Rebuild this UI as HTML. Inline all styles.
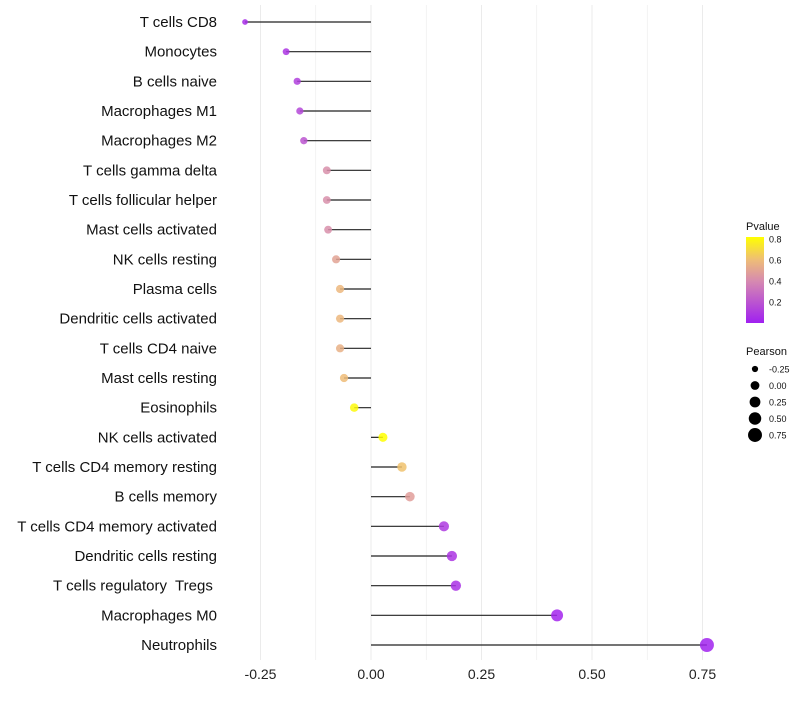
<!DOCTYPE html>
<html><head><meta charset="utf-8"><style>
body{margin:0;background:#fff;font-family:"Liberation Sans",sans-serif}
text{white-space:pre}
</style></head><body>
<svg id="c" width="800" height="700" xmlns="http://www.w3.org/2000/svg"></svg>
<script>
const categories=["T cells CD8","Monocytes","B cells naive","Macrophages M1","Macrophages M2","T cells gamma delta","T cells follicular helper","Mast cells activated","NK cells resting","Plasma cells","Dendritic cells activated","T cells CD4 naive","Mast cells resting","Eosinophils","NK cells activated","T cells CD4 memory resting","B cells memory","T cells CD4 memory activated","Dendritic cells resting","T cells regulatory  Tregs ","Macrophages M0","Neutrophils"];
const pearson=[-0.285,-0.192,-0.167,-0.161,-0.152,-0.1,-0.1,-0.097,-0.079,-0.07,-0.07,-0.07,-0.061,-0.038,0.027,0.07,0.088,0.165,0.183,0.192,0.421,0.76];
const pvalue=[0.05,0.08,0.12,0.15,0.2,0.42,0.42,0.42,0.5,0.58,0.58,0.55,0.6,0.8,0.82,0.62,0.48,0.1,0.08,0.07,0.02,0.01];
const xTicks=[-0.25,0,0.25,0.5,0.75];
const xTickLabels=["-0.25","0.00","0.25","0.50","0.75"];
const sizeLegend=[-0.25,0,0.25,0.5,0.75];
const sizeLegendLabels=["-0.25","0.00","0.25","0.50","0.75"];
const pLegend=[0.2,0.4,0.6,0.8];

const svg=document.getElementById('c');const NS="http://www.w3.org/2000/svg";
function mk(t,a,p){const e=document.createElementNS(NS,t);for(const k in a)e.setAttribute(k,a[k]);(p||svg).appendChild(e);return e;}
const x=v=>371+v*442;
const y=i=>22+i*(623/21);
const rr=v=>Math.sqrt(Math.max(19.4+39*v,4));
function lerp(a,b,t){return a.map((c,i)=>Math.round(c+(b[i]-c)*t));}
const stops=[[0,[160,32,240]],[0.4,[214,138,176]],[0.6,[238,188,120]],[0.82,[255,255,0]]];
function col(p){p=Math.max(0,Math.min(0.82,p));for(let i=0;i<stops.length-1;i++){if(p<=stops[i+1][0]){const t=(p-stops[i][0])/(stops[i+1][0]-stops[i][0]);return "rgb("+lerp(stops[i][1],stops[i+1][1],t).join(",")+")";}}return "rgb(255,255,0)";}
for(let v=-0.25;v<=0.76;v+=0.125){const g=mk('line',{x1:x(v),x2:x(v),y1:5,y2:660,stroke:'#ebebeb','stroke-width':Math.abs((v*8)%2)<0.01?1:0.6});
}
xTicks.forEach((v,i)=>{const t=mk('text',{x:x(v),y:679,'text-anchor':'middle','font-size':14,fill:'#222'});t.textContent=xTickLabels[i];
});
categories.forEach((c,i)=>{
const t=mk('text',{x:217,y:y(i)+5,'text-anchor':'end','font-size':15,fill:'#111'});t.textContent=c;

const l=mk('line',{x1:x(0),x2:x(pearson[i]),y1:y(i),y2:y(i),stroke:'#222','stroke-width':1.2});

const p=mk('circle',{cx:x(pearson[i]),cy:y(i),r:rr(pearson[i]),fill:col(pvalue[i]),'fill-opacity':0.85});

});
const defs=mk('defs',{});const lg=mk('linearGradient',{id:'pg',x1:0,y1:1,x2:0,y2:0},defs);
stops.forEach(s=>mk('stop',{offset:s[0]/0.82,'stop-color':'rgb('+s[1].join(',')+')'},lg));
const tt=mk('text',{x:746,y:230,'font-size':11,fill:'#111'});tt.textContent='Pvalue';

const cb=mk('rect',{x:746,y:237,width:18,height:86,fill:'url(#pg)'});

const py=v=>323-v*(86/0.82);
pLegend.forEach(v=>{const t=mk('text',{x:769,y:py(v)+3.5,'font-size':9,fill:'#111'});t.textContent=v.toFixed(1);
});
const st=mk('text',{x:746,y:355,'font-size':11,fill:'#111'});st.textContent='Pearson';

sizeLegend.forEach((v,i)=>{const cy=369+i*16.5;
const c=mk('circle',{cx:755,cy:cy,r:rr(v),fill:'#000'});
const t=mk('text',{x:769,y:cy+3.5,'font-size':9,fill:'#111'});t.textContent=sizeLegendLabels[i];
});
</script>
</body></html>
